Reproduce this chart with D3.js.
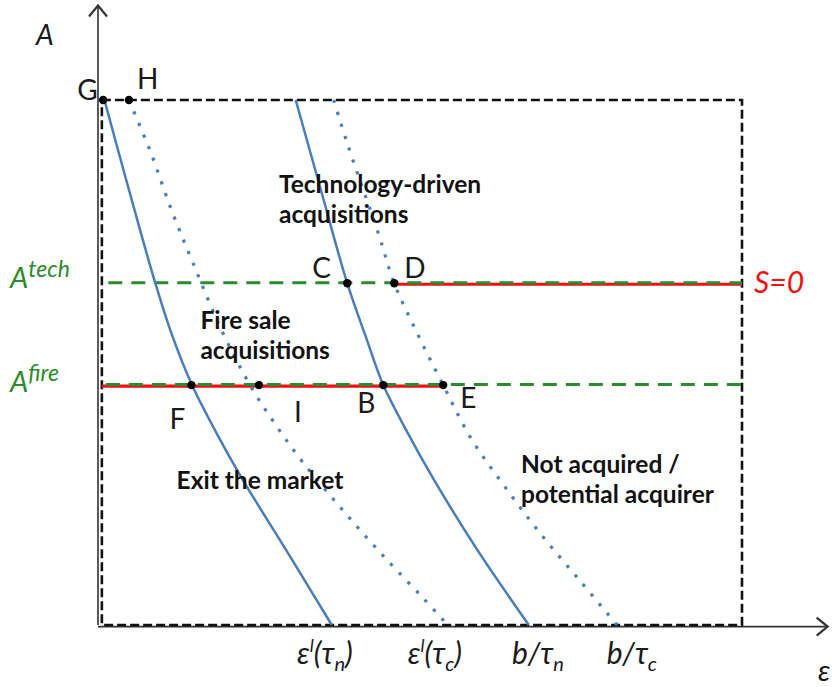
<!DOCTYPE html>
<html><head><meta charset="utf-8">
<script src="https://cdn.jsdelivr.net/npm/d3@7"></script>
<style>body{margin:0;background:#fff}svg{display:block}</style>
</head><body>
<svg id="c" width="832" height="687"></svg>
<script>
// ---- data (ε, A) in model units: box spans ε∈[0,1], A∈[0,1]
const levelTech = 0.651;
const levelFire = 0.457;
const solidN = [[0.010,1.0],[0.048,0.829],[0.089,0.651],[0.115,0.552],[0.146,0.457],[0.183,0.368],[0.225,0.276],[0.292,0.143],[0.363,0]];
const solidC = [[0.307,1.0],[0.346,0.829],[0.387,0.651],[0.415,0.552],[0.443,0.457],[0.480,0.368],[0.522,0.276],[0.589,0.143],[0.669,0]];
const dottedN = [[0.048,1.0],[0.081,0.903],[0.113,0.794],[0.148,0.688],[0.194,0.556],[0.238,0.453],[0.276,0.381],[0.318,0.310],[0.377,0.223],[0.439,0.137],[0.505,0.051],[0.543,0]];
const dottedC = [[0.366,1.0],[0.388,0.914],[0.435,0.747],[0.460,0.651],[0.494,0.560],[0.536,0.457],[0.579,0.356],[0.632,0.263],[0.689,0.171],[0.750,0.082],[0.806,0]];
const pointNames = ["G","H","C","D","F","I","B","E"];
const pointVals = [[0.008,1.0],[0.048,1.0],[0.387,levelTech],[0.460,levelTech],[0.145,levelFire],[0.250,levelFire],[0.443,levelFire],[0.536,levelFire]];
const tickLabels = [["ε","l","(τ","n",")"],["ε","l","(τ","c",")"],["b/τ","","","n",""],["b/τ","","","c",""]];
const tickPos = [0.309,0.481,0.643,0.790];
const regionLabels = [
  {lines:["Technology-driven","acquisitions"], e:0.281, a:0.823},
  {lines:["Fire sale","acquisitions"], e:0.159, a:0.563},
  {lines:["Exit the market"], e:0.122, a:0.260},
  {lines:["Not acquired /","potential acquirer"], e:0.657, a:0.290}
];

const svg = d3.select("#c");
const x = d3.scaleLinear().domain([0,1]).range([98,742]);
const y = d3.scaleLinear().domain([0,1]).range([625,100]);
const boxLeft = 0.006;
const FONT = "Lato, 'Open Sans', sans-serif";

// axes
const ax = svg.append("g").attr("stroke","#333").attr("stroke-width",1.6).attr("fill","none");
ax.append("line").attr("x1",x(0)).attr("y1",y(0)).attr("x2",x(0)).attr("y2",y(1.18));
ax.append("line").attr("x1",x(0)).attr("y1",y(-0.003)).attr("x2",x(1.133)).attr("y2",y(-0.003));
ax.append("path").attr("stroke-width",2.2).attr("d",`M${x(0)-9},${y(1.18)+11}L${x(0)},${y(1.18)}L${x(0)+9},${y(1.18)+11}`);
ax.append("path").attr("stroke-width",2.2).attr("d",`M${x(1.133)-11},${y(-0.003)-9}L${x(1.133)},${y(-0.003)}L${x(1.133)-11},${y(-0.003)+9}`);

// box
svg.append("rect").attr("x",x(boxLeft)).attr("y",y(1)).attr("width",x(1)-x(boxLeft)).attr("height",y(0)-y(1))
  .attr("fill","none").attr("stroke","#111").attr("stroke-width",2.6).attr("stroke-dasharray","9,4");

// horizontal levels
const red="#f01010", green="#2b8c2b";
svg.append("line").attr("x1",x(pointVals[3][0])).attr("x2",x(1)).attr("y1",y(levelTech)+1).attr("y2",y(levelTech)+1)
  .attr("stroke",red).attr("stroke-width",3.2);
svg.append("line").attr("x1",x(boxLeft)).attr("x2",x(pointVals[7][0])).attr("y1",y(levelFire)+1).attr("y2",y(levelFire)+1)
  .attr("stroke",red).attr("stroke-width",3.2);
svg.append("line").attr("x1",x(0.016)).attr("x2",x(1)).attr("y1",y(levelTech)-0.5).attr("y2",y(levelTech)-0.5)
  .attr("stroke",green).attr("stroke-width",3).attr("stroke-dasharray","14,9");
svg.append("line").attr("x1",x(boxLeft)+4).attr("x2",x(1.01)).attr("y1",y(levelFire)-0.5).attr("y2",y(levelFire)-0.5)
  .attr("stroke",green).attr("stroke-width",3).attr("stroke-dasharray","14,9");

// curves
const line = d3.line().x(d=>x(d[0])).y(d=>y(d[1])).curve(d3.curveCatmullRom);
const blue="#4a7ebb";
[solidN,solidC].forEach(s=>svg.append("path").attr("d",line(s)).attr("fill","none").attr("stroke",blue).attr("stroke-width",2.5));
[dottedN,dottedC].forEach(s=>svg.append("path").attr("d",line(s)).attr("fill","none").attr("stroke",blue).attr("stroke-width",3.2).attr("stroke-dasharray","3.2,9.3"));

// points
svg.selectAll("circle.pt").data(pointVals).join("circle").attr("class","pt")
  .attr("cx",d=>x(d[0])).attr("cy",d=>y(d[1])).attr("r",4.2).attr("fill","#000");

// point labels
const lblOff = {G:[-26,0],H:[8,-11],C:[-35,-5],D:[10,-5],F:[-22,44],I:[35,37],B:[-26,28],E:[17,23]};
svg.selectAll("text.pl").data(pointNames).join("text").attr("class","pl")
  .attr("x",(d,i)=>x(pointVals[i][0])+lblOff[d][0]).attr("y",(d,i)=>y(pointVals[i][1])+lblOff[d][1])
  .attr("font-family",FONT).attr("font-size",28).attr("fill","#1a1a1a").text(d=>d);

// axis titles
svg.append("text").attr("x",36).attr("y",45).attr("font-family",FONT).attr("font-style","italic").attr("font-size",28).attr("fill","#1a1a1a").text("A");
svg.append("text").attr("x",818).attr("y",681).attr("font-family",FONT).attr("font-style","italic").attr("font-size",29).attr("fill","#1a1a1a").text("ε");

// A tech / A fire labels
function supLabel(px,py,base,sup,col){
  const t=svg.append("text").attr("x",px).attr("y",py).attr("font-family",FONT).attr("font-style","italic").attr("fill",col);
  t.append("tspan").attr("font-size",29).text(base);
  t.append("tspan").attr("font-size",23).attr("dy",-11).text(sup);
}
supLabel(10,y(levelTech)+5,"A","tech",green);
supLabel(10,y(levelFire)+7,"A","fire",green);
svg.append("text").attr("x",754).attr("y",y(levelTech)+10).attr("font-family",FONT).attr("font-style","italic").attr("font-size",30).attr("fill",red).text("S=0");

// tick labels
tickLabels.forEach((p,i)=>{
  const t=svg.append("text").attr("x",x(tickPos[i])).attr("y",664).attr("font-family",FONT).attr("font-style","italic").attr("font-size",30).attr("fill","#1a1a1a");
  t.append("tspan").text(p[0]);
  if(p[1]) t.append("tspan").attr("font-size",18).attr("dy",-12).text(p[1]);
  if(p[2]) t.append("tspan").attr("dy",p[1]?12:0).text(p[2]);
  t.append("tspan").attr("font-size",20).attr("dy",7).text(p[3]);
  if(p[4]) t.append("tspan").attr("dy",-7).text(p[4]);
});

// region labels
regionLabels.forEach(r=>{
  const t=svg.append("text").attr("font-family",FONT).attr("font-weight","bold").attr("font-size",24.5).attr("fill","#111");
  r.lines.forEach((l,j)=>t.append("tspan").attr("x",x(r.e)).attr("y",y(r.a)+j*30).text(l));
});
</script>
</body></html>
